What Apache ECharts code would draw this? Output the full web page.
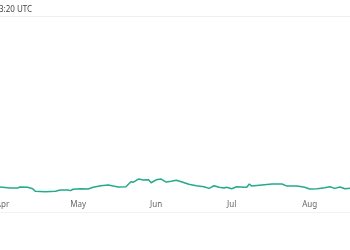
<!DOCTYPE html>
<html>
<head>
<meta charset="utf-8">
<script src="https://cdn.jsdelivr.net/npm/echarts@6/dist/echarts.min.js"></script>
<style>
  html, body { margin: 0; padding: 0; background: #fff; }
  #chart { width: 350px; height: 250px; }
</style>
</head>
<body>
<div id="chart"></div>
<script>
const dates = [
  "2023-03-31", "2023-04-04", "2023-04-07", "2023-04-08", "2023-04-11", "2023-04-13",
  "2023-04-14", "2023-04-18", "2023-04-22", "2023-04-24", "2023-04-27", "2023-04-28",
  "2023-04-29", "2023-05-02", "2023-05-05", "2023-05-07", "2023-05-10", "2023-05-13",
  "2023-05-15", "2023-05-17", "2023-05-20", "2023-05-22", "2023-05-23", "2023-05-25",
  "2023-05-27", "2023-05-29", "2023-05-30", "2023-06-01", "2023-06-03", "2023-06-05",
  "2023-06-07", "2023-06-09", "2023-06-11", "2023-06-14", "2023-06-17", "2023-06-20",
  "2023-06-22", "2023-06-24", "2023-06-26", "2023-06-28", "2023-06-29", "2023-07-01",
  "2023-07-03", "2023-07-06", "2023-07-07", "2023-07-08", "2023-07-09", "2023-07-13",
  "2023-07-17", "2023-07-21", "2023-07-23", "2023-07-27", "2023-07-30", "2023-08-01",
  "2023-08-04", "2023-08-07", "2023-08-09", "2023-08-11", "2023-08-13", "2023-08-15",
  "2023-08-17"
];
const values = [
  4.6, 4.0, 4.0, 4.6, 4.4, 3.6,
  2.1, 1.9, 2.1, 2.9, 2.9, 2.5,
  3.3, 3.6, 3.4, 4.4, 5.3, 5.7,
  5.1, 4.6, 4.7, 7.6, 7.3, 9.1,
  8.6, 8.7, 7.0, 8.7, 9.1, 7.4,
  7.8, 8.4, 7.6, 6.1, 5.3, 4.7,
  3.8, 5.3, 4.4, 4.0, 4.4, 3.6,
  4.7, 4.4, 4.4, 6.3, 5.1, 5.7,
  6.3, 6.3, 5.1, 5.1, 4.4, 3.4,
  3.6, 4.1, 4.7, 3.8, 4.6, 3.6,
  3.8
];
const monthNames = ["Jan", "Feb", "Mar", "Apr", "May", "Jun", "Jul", "Aug", "Sep", "Oct", "Nov", "Dec"];
const firstDay = "2023-03-31";
const lastDay = "2023-08-17";
const updatedText = "3:20 UTC";

// one category per day over the shown range
const days = [];
for (let t = Date.parse(firstDay); t <= Date.parse(lastDay); t += 86400000) {
  days.push(new Date(t).toISOString().slice(0, 10));
}

const chart = echarts.init(document.getElementById("chart"));
chart.setOption({
  animation: false,
  graphic: [
    {
      type: "text",
      left: -1,
      top: 6,
      style: { text: updatedText, fill: "#444", font: "8px 'Noto Sans'" }
    },
    {
      type: "line",
      shape: { x1: 0, y1: 16.5, x2: 350, y2: 16.5 },
      style: { stroke: "#eeeeee", lineWidth: 1 }
    },
    {
      type: "line",
      shape: { x1: 0, y1: 212.5, x2: 350, y2: 212.5 },
      style: { stroke: "#f2f2f2", lineWidth: 1 }
    }
  ],
  grid: { left: 0, right: 0, top: 20, bottom: 55, outerBoundsMode: "none" },
  xAxis: {
    type: "category",
    data: days,
    boundaryGap: false,
    axisLine: { show: false },
    axisTick: { show: false },
    splitLine: { show: false },
    axisLabel: {
      interval: (i, d) => d.slice(8) === "01",
      formatter: (d) => monthNames[+d.slice(5, 7) - 1],
      hideOverlap: false,
      color: "#666",
      fontSize: 8,
      fontFamily: "Noto Sans",
      margin: 6
    }
  },
  yAxis: {
    type: "value",
    min: 0,
    max: 100,
    show: false
  },
  series: [
    {
      type: "line",
      showSymbol: false,
      data: dates.map((d, i) => [d, values[i]]),
      lineStyle: { color: "#24aa8c", width: 1.5 },
      itemStyle: { color: "#24aa8c" }
    }
  ]
});
</script>
</body>
</html>
